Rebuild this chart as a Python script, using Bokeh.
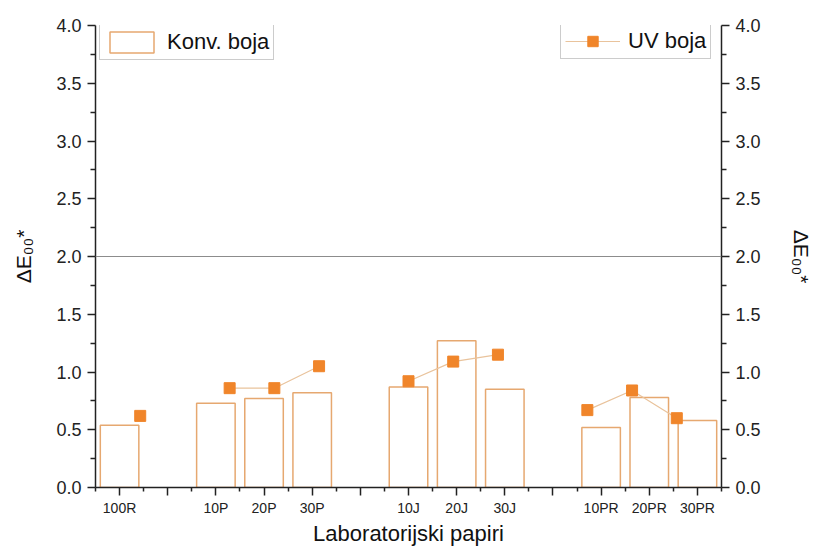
from bokeh.plotting import figure
from bokeh.models import (Range1d, LinearAxis, FixedTicker, PrintfTickFormatter,
                          Span, Legend, LegendItem, ColumnDataSource)
from bokeh.embed import file_html
from bokeh.resources import INLINE

# ---- data ----
tick_positions = [1, 2, 3, 4, 5, 6, 7, 8, 9, 10, 11, 12, 13]
tick_labels = ["100R", "", "10P", "20P", "30P", "", "10J", "20J", "30J", "", "10PR", "20PR", "30PR"]

samples = ["100R", "10P", "20P", "30P", "10J", "20J", "30J", "10PR", "20PR", "30PR"]
sample_pos = [1, 3, 4, 5, 7, 8, 9, 11, 12, 13]
groups = ["R", "P", "P", "P", "J", "J", "J", "PR", "PR", "PR"]
konv_boja = [0.54, 0.73, 0.77, 0.82, 0.87, 1.27, 0.85, 0.52, 0.78, 0.58]
uv_boja = [0.62, 0.86, 0.86, 1.05, 0.92, 1.09, 1.15, 0.67, 0.84, 0.60]

y_ticks = [0.0, 0.5, 1.0, 1.5, 2.0, 2.5, 3.0, 3.5, 4.0]
y_minor = [0.25, 0.75, 1.25, 1.75, 2.25, 2.75, 3.25, 3.75]
x_minor = [0.5, 1.5, 2.5, 3.5, 4.5, 5.5, 6.5, 7.5, 8.5, 9.5, 10.5, 11.5, 12.5, 13.5]
limit_value = 2.0

FONT = "Liberation Sans"
BAR_COLOR = "#e6a870"
MARK_COLOR = "#f0852a"
LINE_COLOR = "#e9c39c"
AXIS_COLOR = "#222222"
Y_TITLE = "ΔE₀₀*"

p = figure(width=815, height=557, output_backend="svg", toolbar_location=None,
           x_range=Range1d(0.5, 13.5), y_range=Range1d(0, 4),
           min_border_left=95, min_border_right=92, min_border_top=25, min_border_bottom=70)
p.extra_x_ranges = {"uv": Range1d(0, 14)}
p.outline_line_color = None
p.xgrid.visible = False
p.ygrid.visible = False
p.background_fill_color = "white"

# bars
bar_src = ColumnDataSource(dict(x=sample_pos, top=konv_boja))
bars = p.vbar(x="x", top="top", width=0.8, bottom=0, source=bar_src,
              fill_color="white", line_color=BAR_COLOR, line_width=1.5)

# UV line, broken between groups
lx, ly = [], []
for i, (xp, yv, g) in enumerate(zip(sample_pos, uv_boja, groups)):
    if i > 0 and groups[i - 1] != g:
        lx.append(float("nan"))
        ly.append(float("nan"))
    lx.append(xp)
    ly.append(yv)
uv_line = p.line(lx, ly, x_range_name="uv", line_color=LINE_COLOR, line_width=1.2)
uv_pts = p.scatter(sample_pos, uv_boja, x_range_name="uv", marker="square", size=11,
                   fill_color=MARK_COLOR, line_color=MARK_COLOR)

p.add_layout(Span(location=limit_value, dimension="width", line_color="#8c8c8c", line_width=1))

# axes
right_axis = LinearAxis()
p.add_layout(right_axis, "right")
for ax, standoff in [(p.yaxis[0], 18), (right_axis, 26)]:
    ax.ticker = FixedTicker(ticks=y_ticks, minor_ticks=y_minor)
    ax.formatter = PrintfTickFormatter(format="%.1f")
    ax.major_tick_out = 8
    ax.major_tick_in = 0
    ax.minor_tick_out = 5
    ax.minor_tick_in = 0
    ax.axis_line_width = 1.5
    ax.axis_line_color = AXIS_COLOR
    ax.major_tick_line_color = AXIS_COLOR
    ax.minor_tick_line_color = AXIS_COLOR
    ax.major_tick_line_width = 1.5
    ax.minor_tick_line_width = 1.5
    ax.major_label_text_font = FONT
    ax.major_label_text_font_size = "18px"
    ax.major_label_text_color = AXIS_COLOR
    ax.major_label_standoff = 6
    ax.axis_label = Y_TITLE
    ax.axis_label_text_font = FONT
    ax.axis_label_text_font_size = "21px"
    ax.axis_label_text_font_style = "normal"
    ax.axis_label_text_color = "#111111"
    ax.axis_label_standoff = standoff

xa = p.xaxis[0]
xa.ticker = FixedTicker(ticks=tick_positions, minor_ticks=x_minor)
xa.major_label_overrides = {pos: lab for pos, lab in zip(tick_positions, tick_labels)}
xa.major_tick_out = 8
xa.major_tick_in = 0
xa.minor_tick_out = 4
xa.minor_tick_in = 0
xa.axis_line_width = 1.5
xa.axis_line_color = AXIS_COLOR
xa.major_tick_line_color = AXIS_COLOR
xa.minor_tick_line_color = AXIS_COLOR
xa.major_tick_line_width = 1.5
xa.minor_tick_line_width = 1.5
xa.major_label_text_font = FONT
xa.major_label_text_font_size = "14px"
xa.major_label_text_color = AXIS_COLOR
xa.major_label_standoff = 4
xa.axis_label = "Laboratorijski papiri"
xa.axis_label_text_font = FONT
xa.axis_label_text_font_size = "22px"
xa.axis_label_text_font_style = "normal"
xa.axis_label_text_color = "#111111"
xa.axis_label_standoff = 2

# legends (location = bottom-left corner, frame pixels from frame bottom-left)
leg1 = Legend(items=[LegendItem(label="Konv. boja", renderers=[bars])], location=(4, 427))
leg2 = Legend(items=[LegendItem(label="UV boja", renderers=[uv_line, uv_pts])], location=(465, 428))
for lg in [leg1, leg2]:
    lg.padding = 4
    lg.margin = 0
    lg.spacing = 0
    lg.glyph_width = 55
    lg.glyph_height = 26
    lg.label_standoff = 8
    lg.label_text_font = FONT
    lg.label_text_font_size = "22px"
    lg.label_text_color = "#111111"
    lg.border_line_color = "#9a9a9a"
    lg.border_line_width = 1
    lg.background_fill_color = "white"
    lg.background_fill_alpha = 1.0
    p.add_layout(lg, "center")

open("out.html", "w").write(file_html(p, INLINE))
